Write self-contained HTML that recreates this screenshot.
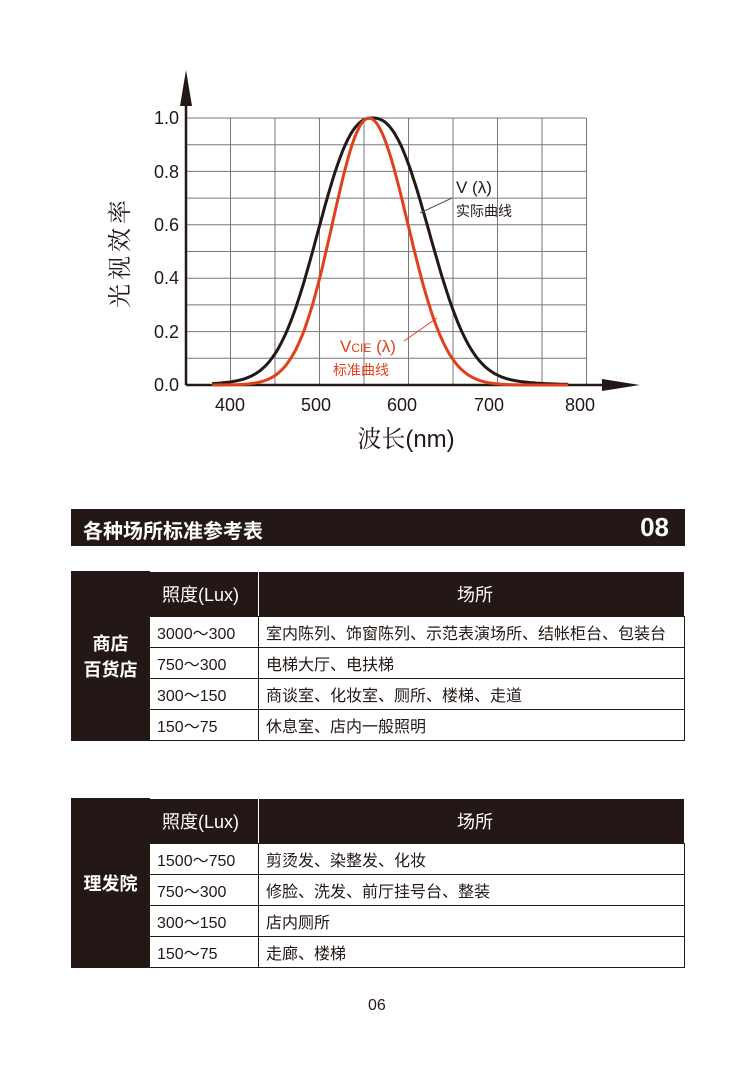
<!DOCTYPE html>
<html><head><meta charset="utf-8"><style>
body{margin:0;width:756px;height:1071px;background:#fff;position:relative;font-family:"Liberation Sans","Noto Sans CJK SC",sans-serif;color:#231815;overflow:hidden}
.a{position:absolute}
.bar{left:71px;width:614px;background:#231815;color:#fff}
table{position:absolute;left:71px;width:614px;border-collapse:collapse;font-size:16px;table-layout:fixed}
td{border:1.5px solid #231815;padding:0 0 0 7px;height:30px;white-space:nowrap;overflow:hidden}
.h td{background:#231815;color:#fff;height:44px;font-size:18px;border-color:#fff #fff #231815 #fff}
td.s{background:#231815;color:#fff;text-align:center;font-size:18px;font-weight:bold;padding:0;border-color:#231815}
</style></head><body>
<svg class="a" style="left:0;top:0" width="756" height="470" id="ch">
<g stroke="#777" stroke-width="1" id="grid"></g>
<line x1="186" y1="385" x2="186" y2="100" stroke="#231815" stroke-width="2.5"/>
<polygon points="186,70 180,106 192,106" fill="#231815"/>
<line x1="186" y1="385" x2="605" y2="385" stroke="#231815" stroke-width="2.5"/>
<polygon points="640,385 602,379 602,391" fill="#231815"/>
<path id="blk" fill="none" stroke="#231815" stroke-width="3"/>
<path id="red" fill="none" stroke="#e0401c" stroke-width="3"/>
<line x1="420" y1="213" x2="452" y2="198" stroke="#555" stroke-width="1"/>
<line x1="404" y1="341" x2="437" y2="318" stroke="#e0401c" stroke-width="1"/>
<g font-size="18" fill="#231815" text-anchor="end">
<text x="179" y="124">1.0</text><text x="179" y="178">0.8</text><text x="179" y="231">0.6</text><text x="179" y="284">0.4</text><text x="179" y="338">0.2</text><text x="179" y="391">0.0</text></g>
<g font-size="18" fill="#231815" text-anchor="middle">
<text x="230" y="411">400</text><text x="316" y="411">500</text><text x="402" y="411">600</text><text x="489" y="411">700</text><text x="580" y="411">800</text></g>
<text x="456" y="193" font-size="17" fill="#231815">V (λ)</text>
<text x="456" y="216" font-size="14" fill="#231815">实际曲线</text>
<text x="340" y="352" font-size="17" fill="#e0401c">V<tspan font-size="12">CIE</tspan> (λ)</text>
<text x="333" y="375" font-size="14" fill="#e0401c">标准曲线</text>
<text x="406" y="447" font-size="24" text-anchor="middle" fill="#231815" font-family="'Liberation Sans','Noto Serif CJK SC',sans-serif">波长(nm)</text>
<text transform="translate(128,252) rotate(-90)" font-size="24" text-anchor="middle" fill="#231815" font-family="'Noto Serif CJK SC',serif" letter-spacing="4">光视效率</text>
</svg>
<div class="a bar" style="top:509px;height:37px"><span class="a" style="left:12px;top:6px;font-size:20px;font-weight:bold">各种场所标准参考表</span><span class="a" style="right:16px;top:3px;font-size:26px;font-weight:bold">08</span></div>
<table style="top:571px">
<colgroup><col style="width:78px"><col style="width:109px"><col></colgroup>
<tr class="h"><td class="s" rowspan="5">商店<br>百货店</td><td style="padding-left:12px">照度(Lux)</td><td style="text-align:center">场所</td></tr>
<tr><td>3000～300</td><td>室内陈列、饰窗陈列、示范表演场所、结帐柜台、包装台</td></tr>
<tr><td>750～300</td><td>电梯大厅、电扶梯</td></tr>
<tr><td>300～150</td><td>商谈室、化妆室、厕所、楼梯、走道</td></tr>
<tr><td>150～75</td><td>休息室、店内一般照明</td></tr>
</table>
<table style="top:798px">
<colgroup><col style="width:78px"><col style="width:109px"><col></colgroup>
<tr class="h"><td class="s" rowspan="5">理发院</td><td style="padding-left:12px">照度(Lux)</td><td style="text-align:center">场所</td></tr>
<tr><td>1500～750</td><td>剪烫发、染整发、化妆</td></tr>
<tr><td>750～300</td><td>修脸、洗发、前厅挂号台、整装</td></tr>
<tr><td>300～150</td><td>店内厕所</td></tr>
<tr><td>150～75</td><td>走廊、楼梯</td></tr>
</table>
<div class="a" style="left:368px;top:997px;font-size:16px">06</div>
<script>
var ns="http://www.w3.org/2000/svg",g=document.getElementById('grid');
function L(a,b,c,d){var l=document.createElementNS(ns,'line');l.setAttribute('x1',a);l.setAttribute('y1',b);l.setAttribute('x2',c);l.setAttribute('y2',d);g.appendChild(l);}
for(var i=0;i<=9;i++){var x=186+i*44.5;L(x,118,x,385);}
for(var j=0;j<10;j++){var y=118+j*26.7;L(186,y,586,y);}
function X(n){return 230+(n-400)*0.89}function Y(v){return 385-v*267}
var r="",b="";
for(var n=380;n<=780;n+=2){
var d=n/1000-0.556,v=Math.exp(-285.4*d*d*(d>0?0.92:1.05));
r+=(n==380?"M":"L")+X(n).toFixed(1)+","+Y(v).toFixed(1);
var e=n-560,s=e<0?77:80,w=Math.exp(-Math.pow(Math.abs(e)/s,2.4));
w=0.93*w+0.07*Math.exp(-Math.pow(e/(e<0?110:120),2));
b+=(n==380?"M":"L")+X(n).toFixed(1)+","+Y(w).toFixed(1);}
document.getElementById('red').setAttribute('d',r);
document.getElementById('blk').setAttribute('d',b);
</script>
</body></html>
